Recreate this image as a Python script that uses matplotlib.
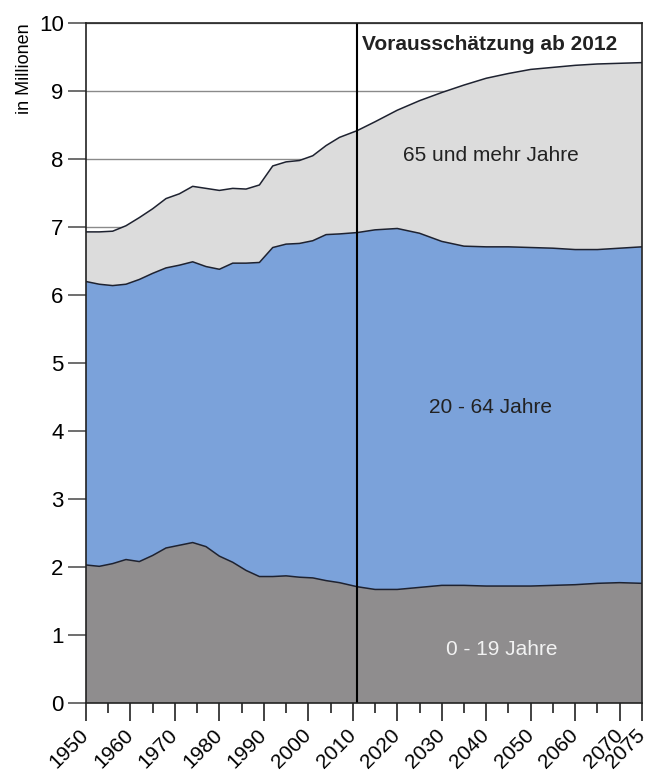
import numpy as np
from matplotlib import pyplot as plt

plt.rcParams['font.family'] = ['Liberation Sans', 'DejaVu Sans']

# Stuetzjahre und kumulierte Grenzen (in Millionen)
jahre = [1950, 1953, 1956, 1959, 1962, 1965, 1968, 1971, 1974, 1977, 1980,
         1983, 1986, 1989, 1992, 1995, 1998, 2001, 2004, 2007, 2011, 2015,
         2020, 2025, 2030, 2035, 2040, 2045, 2050, 2055, 2060, 2065, 2070, 2075]
bis_19 = [2.03, 2.01, 2.05, 2.11, 2.08, 2.17, 2.28, 2.32, 2.36, 2.30, 2.16,
          2.07, 1.95, 1.86, 1.86, 1.87, 1.85, 1.84, 1.80, 1.77, 1.71, 1.67,
          1.67, 1.70, 1.73, 1.73, 1.72, 1.72, 1.72, 1.73, 1.74, 1.76, 1.77, 1.76]
bis_64 = [6.20, 6.16, 6.14, 6.16, 6.23, 6.32, 6.40, 6.44, 6.49, 6.42, 6.38,
          6.47, 6.47, 6.48, 6.70, 6.75, 6.76, 6.80, 6.89, 6.90, 6.92, 6.96,
          6.98, 6.91, 6.79, 6.72, 6.71, 6.71, 6.70, 6.69, 6.67, 6.67, 6.69, 6.71]
gesamt = [6.93, 6.93, 6.94, 7.02, 7.14, 7.27, 7.42, 7.49, 7.60, 7.57, 7.54,
          7.57, 7.56, 7.62, 7.90, 7.96, 7.98, 8.05, 8.20, 8.32, 8.42, 8.55,
          8.72, 8.86, 8.98, 9.09, 9.19, 9.26, 9.32, 9.35, 9.38, 9.40, 9.41, 9.42]

gruppen = ["0 - 19 Jahre", "20 - 64 Jahre", "65 und mehr Jahre"]
farben = ["#8f8d8e", "#7ba2da", "#dcdcdc"]
major_jahre = list(range(1950, 2071, 10)) + [2075]
minor_jahre = list(range(1955, 2071, 10))
grenze = 2011

x = np.array(jahre)
jung = np.array(bis_19)
mitte = np.array(bis_64) - jung
alt = np.array(gesamt) - np.array(bis_64)

fig = plt.figure(figsize=(6.51, 7.73), dpi=100)
ax = fig.add_axes([0.132, 0.0906, 0.854, 0.8794])

for y in range(0, 11):
    ax.axhline(y, color="#8a8a8a", lw=1.0, zorder=0)

ax.stackplot(x, jung, mitte, alt, colors=farben, zorder=1)
ax.plot(x, bis_19, color="#1e2230", lw=1.1, zorder=2)
ax.plot(x, bis_64, color="#1e2230", lw=1.1, zorder=2)
ax.plot(x, gesamt, color="#1e2230", lw=1.1, zorder=2)
ax.axvline(grenze, color="black", lw=1.5, zorder=3)

ax.set_xlim(1950, 2075)
ax.set_ylim(0, 10)
ax.set_yticks(range(0, 11))
ax.set_xticks(major_jahre)
ax.set_xticks(minor_jahre, minor=True)
ax.set_xticklabels([str(j) for j in major_jahre], rotation=45, ha="right",
                   va="center", rotation_mode="anchor")
ax.tick_params(axis="y", direction="out", length=13, width=1.2,
               color="#555555", labelsize=16, pad=3)
ax.tick_params(axis="x", which="major", direction="out", length=13, width=1.2,
               color="#222222", labelsize=15, pad=8)
ax.tick_params(axis="x", which="minor", direction="out", length=7, width=1.2,
               color="#222222")
for s in ax.spines.values():
    s.set_linewidth(1.2)
    s.set_color("#222222")
    s.set_zorder(4)

ax.set_ylabel("in Millionen", fontsize=13, loc="top", labelpad=4)

ax.text(2041, 8.06, gruppen[2], ha="center", va="center", fontsize=15,
        color="#222222")
ax.text(2041, 4.34, gruppen[1], ha="center", va="center", fontsize=15,
        color="#222222")
ax.text(2043.6, 0.78, gruppen[0], ha="center", va="center", fontsize=15,
        color="#f2f2f2")
ax.text(2012.0, 9.68, "Vorausschätzung ab 2012", ha="left", va="center",
        fontsize=15, fontweight="bold", color="#222222")

fig.savefig("out.png", dpi=100)
